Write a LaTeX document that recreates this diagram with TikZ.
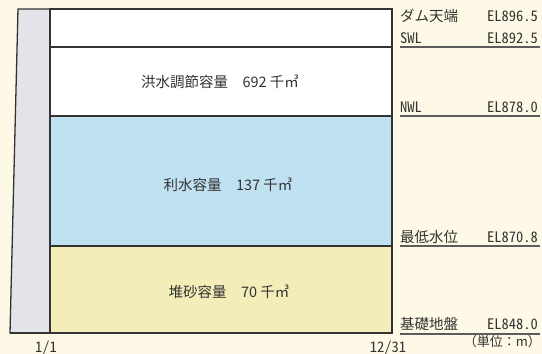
\documentclass[tikz,border=0pt]{standalone}
\usepackage{fontspec}
\setmainfont{Noto Sans CJK JP}[RawFeature={+hwid}]
\newfontfamily\jp{Noto Sans CJK JP}[RawFeature={+hwid}]
\newfontfamily\jpp{Noto Sans CJK JP}
\definecolor{bgc}{HTML}{FDF9E6}
\definecolor{damc}{HTML}{E3E4E8}
\definecolor{bluec}{HTML}{BFE1F1}
\definecolor{yelc}{HTML}{F2EDB9}
\definecolor{linec}{HTML}{333333}
\definecolor{txtc}{HTML}{333333}
\tikzset{
  frame/.style={draw=linec, line width=1.3pt},
  thick line/.style={draw=linec, line width=2.4pt},
  ulabel/.style={draw=linec!80, line width=1.1pt},
  lbl/.style={font=\jp\fontsize{14.5}{15}\selectfont, text=txtc, inner sep=0pt},
  vol/.style={font=\jpp\fontsize{14.5}{15}\selectfont, text=txtc, inner sep=0pt},
}
\begin{document}
\begin{tikzpicture}[x=1pt,y=-1pt]
\fill[bgc] (0,0) rectangle (542,354);
\useasboundingbox (0,0) rectangle (542,354);
% regions
\fill[white] (50,9) rectangle (392,116);
\fill[bluec] (50,116) rectangle (392,246);
\fill[yelc] (50,246) rectangle (392,333);
% dam body
\filldraw[fill=damc, frame] (18,9) -- (50,9) -- (50,333) -- (10,333) -- cycle;
% frame
\draw[frame] (50,9) rectangle (392,333);
\draw[frame] (50,246) -- (392,246);
\draw[frame] (10,333) -- (392,333);
\draw[thick line] (50,47) -- (392,47);
\draw[thick line] (50,116) -- (392,116);
% volume labels
\node[vol] (v1) at (220,82) {洪水調節容量\hspace{1em}692 千㎥};
\node[vol] (v2) at (228,185) {利水容量\hspace{1em}137 千㎥};
\node[vol] (v3) at (229,292) {堆砂容量\hspace{1em}70 千㎥};
% right labels
\node[lbl, anchor=west] (l1) at (400,16) {ダム天端};
\node[lbl, anchor=east] (e1) at (538,16) {EL896.5};
\node[lbl, anchor=west] (l2) at (400,38) {SWL};
\node[lbl, anchor=east] (e2) at (538,38) {EL892.5};
\node[lbl, anchor=west] (l3) at (400,107) {NWL};
\node[lbl, anchor=east] (e3) at (538,107) {EL878.0};
\node[lbl, anchor=west] (l4) at (400,237) {最低水位};
\node[lbl, anchor=east] (e4) at (538,237) {EL870.8};
\node[lbl, anchor=west] (l5) at (400,324) {基礎地盤};
\node[lbl, anchor=east] (e5) at (538,324) {EL848.0};
\node[vol, anchor=east, font=\jpp\fontsize{13}{14}\selectfont] (unit) at (541,342) {（単位：m）};
\node[lbl] (d1) at (46,348) {1/1};
\node[lbl] (d2) at (388,348) {12/31};
% underlines
\draw[ulabel] (400,47) -- (540,47);
\draw[ulabel] (400,116) -- (540,116);
\draw[ulabel] (400,246) -- (540,246);
\draw[ulabel] (400,334) -- (540,334);
\end{tikzpicture}
\end{document}
